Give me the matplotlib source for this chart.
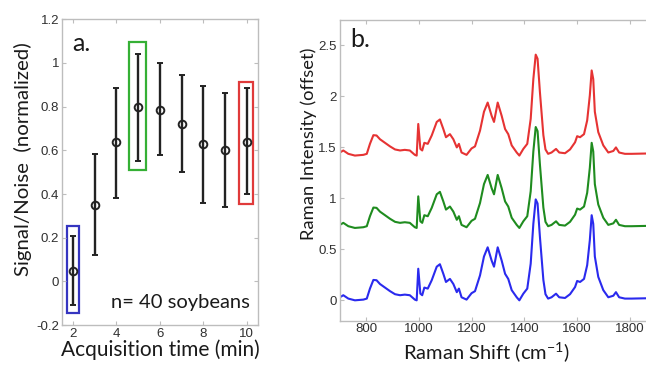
import matplotlib
matplotlib.use("Agg")
import matplotlib.pyplot as plt
from matplotlib.patches import Rectangle
from matplotlib.ticker import FuncFormatter

# panel a: signal/noise vs acquisition time
acq_time = [2, 3, 4, 5, 6, 7, 8, 9, 10]
sn_mean = [0.046, 0.35, 0.636, 0.798, 0.787, 0.722, 0.627, 0.60, 0.639]
sn_top = [0.206, 0.584, 0.887, 1.04, 1.0, 0.945, 0.893, 0.862, 0.884]
sn_bottom = [-0.11, 0.12, 0.38, 0.55, 0.578, 0.50, 0.361, 0.34, 0.398]

# highlight boxes (x0, x1, y0, y1) and colours
box_x0 = [1.71, 4.60, 9.65]
box_x1 = [2.30, 5.35, 10.26]
box_y0 = [-0.144, 0.509, 0.356]
box_y1 = [0.254, 1.094, 0.915]
box_colors = ["#3535c0", "#35b035", "#e03a3a"]

# panel b: Raman spectrum and offsets
shift = [701, 714, 733, 758, 790, 803, 815, 828, 840, 853, 872, 891, 910, 929,
         947, 966, 985, 992, 998, 1006, 1013, 1021, 1034, 1049, 1068, 1080,
         1093, 1103, 1118, 1131, 1144, 1152, 1162, 1181, 1200, 1213, 1232,
         1247, 1261, 1276, 1285, 1299, 1314, 1327, 1339, 1352, 1371, 1381,
         1396, 1411, 1424, 1434, 1443, 1450, 1459, 1472, 1480, 1490, 1503,
         1520, 1532, 1554, 1573, 1592, 1600, 1611, 1626, 1638, 1648, 1655,
         1661, 1667, 1680, 1699, 1718, 1737, 1747, 1759, 1781, 1806, 1861]
intensity = [0.03, 0.05, 0.017, 0.0, 0.007, 0.017, 0.115, 0.2, 0.197, 0.16,
             0.125, 0.09, 0.06, 0.05, 0.056, 0.05, 0.007, 0.0, 0.31, 0.065,
             0.05, 0.125, 0.115, 0.197, 0.33, 0.354, 0.26, 0.18, 0.21, 0.16,
             0.08, 0.115, 0.03, 0.007, 0.07, 0.09, 0.245, 0.43, 0.52, 0.39,
             0.33, 0.52, 0.39, 0.26, 0.21, 0.1, 0.03, 0.0, 0.065, 0.115, 0.36,
             0.75, 0.99, 0.95, 0.62, 0.2, 0.06, 0.017, 0.03, 0.065, 0.03,
             0.023, 0.06, 0.13, 0.19, 0.18, 0.21, 0.345, 0.59, 0.835, 0.75,
             0.43, 0.23, 0.1, 0.03, 0.045, 0.08, 0.03, 0.017, 0.017, 0.02]
offsets = [0.0, 0.71, 1.42]
line_colors = ["#2a2aee", "#1f8c1f", "#e63333"]

spine_gray = "#bdbdbd"
tick_color = "#303030"
text_color = "#1a1a1a"
label_font = "Lato"
tick_font = "Liberation Sans"

fmt = FuncFormatter(lambda v, p: ("%g" % round(v, 3)))

fig = plt.figure(figsize=(6.46, 3.68), dpi=100)


def style(ax):
    for s in ax.spines.values():
        s.set_color(spine_gray)
        s.set_linewidth(1.0)
    ax.tick_params(direction="in", top=True, right=True, length=3,
                   color=spine_gray, labelcolor=tick_color, labelsize=9.5,
                   pad=2)
    for lab in ax.get_xticklabels() + ax.get_yticklabels():
        lab.set_fontfamily(tick_font)


ax1 = fig.add_axes([0.096, 0.1168, 0.303, 0.8307])
for x0, x1, y0, y1, c in zip(box_x0, box_x1, box_y0, box_y1, box_colors):
    ax1.add_patch(Rectangle((x0, y0), x1 - x0, y1 - y0, fill=False,
                            edgecolor=c, linewidth=1.6, zorder=1))
err_lo = [m - b for m, b in zip(sn_mean, sn_bottom)]
err_hi = [t - m for m, t in zip(sn_mean, sn_top)]
ax1.errorbar(acq_time, sn_mean, yerr=[err_lo, err_hi], fmt="o", color="#222222",
             mfc="none", mec="#222222", ms=5.5, mew=1.4, elinewidth=1.7,
             capsize=2, capthick=1.2, zorder=3)
ax1.set_xlim(1.5, 10.5)
ax1.set_ylim(-0.2, 1.2)
ax1.set_xticks([2, 4, 6, 8, 10])
ax1.set_yticks([-0.2, 0, 0.2, 0.4, 0.6, 0.8, 1.0, 1.2])
ax1.yaxis.set_major_formatter(fmt)
style(ax1)
ax1.set_xlabel("Acquisition time (min)", fontsize=15, family=label_font,
               labelpad=0, color=text_color)
ax1.set_ylabel("Signal/Noise  (normalized)", fontsize=14.7, family=label_font,
               color=text_color)
ax1.yaxis.set_label_coords(-0.155, 0.543)
ax1.text(0.05, 0.958, "a.", transform=ax1.transAxes, fontsize=18,
         family=label_font, va="top", ha="left", color=text_color)
ax1.text(0.96, 0.045, "n= 40 soybeans", transform=ax1.transAxes, fontsize=14.5,
         family=label_font, va="bottom", ha="right", color=text_color)

ax2 = fig.add_axes([0.5257, 0.1285, 0.4903, 0.8172])
for off, c in zip(offsets, line_colors):
    ax2.plot(shift, [v + off for v in intensity], color=c, linewidth=1.5)
ax2.set_xlim(700, 1900)
ax2.set_ylim(-0.2, 2.75)
ax2.set_xticks([800, 1000, 1200, 1400, 1600, 1800])
ax2.set_yticks([0, 0.5, 1.0, 1.5, 2.0, 2.5])
ax2.yaxis.set_major_formatter(fmt)
style(ax2)
ax2.set_xlabel(r"Raman Shift (cm$^{\mathregular{-1}}$)", fontsize=14.5,
               family=label_font, color=text_color)
ax2.xaxis.set_label_coords(0.465, -0.065)
ax2.set_ylabel("Raman Intensity (offset)", fontsize=13.2, family=label_font,
               color=text_color)
ax2.yaxis.set_label_coords(-0.071, 0.59)
ax2.text(0.035, 0.975, "b.", transform=ax2.transAxes, fontsize=18,
         family=label_font, va="top", ha="left", color=text_color)

fig.savefig("out.png", dpi=100)
